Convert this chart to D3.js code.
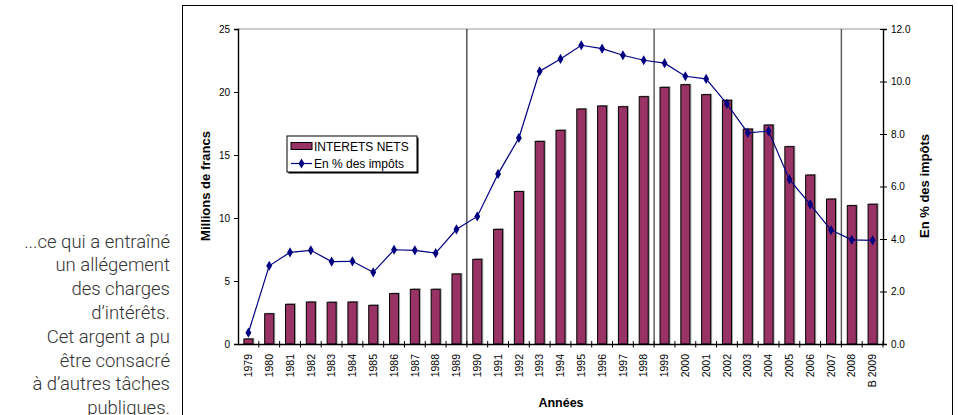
<!DOCTYPE html>
<html>
<head>
<meta charset="utf-8">
<script src="https://cdn.jsdelivr.net/npm/d3@7"></script>
<style>
  body { margin: 0; background: #fff; }
  svg text { font-family: "Liberation Sans", Arial, sans-serif; }
</style>
</head>
<body>
<div id="body"></div>
<script>
// données
var years = ["1979","1980","1981","1982","1983","1984","1985","1986","1987","1988","1989",
             "1990","1991","1992","1993","1994","1995","1996","1997","1998","1999","2000",
             "2001","2002","2003","2004","2005","2006","2007","2008","B 2009"];
var interets = [0.4, 2.4, 3.15, 3.33, 3.31, 3.33, 3.07, 4.0, 4.34, 4.34, 5.56,
                6.72, 9.1, 12.1, 16.08, 16.96, 18.65, 18.89, 18.83, 19.63, 20.37, 20.58,
                19.79, 19.34, 17.06, 17.38, 15.66, 13.41, 11.5, 10.98, 11.09];
var pctImpots = [0.43, 2.98, 3.49, 3.57, 3.14, 3.15, 2.73, 3.59, 3.57, 3.46, 4.37,
                 4.86, 6.48, 7.85, 10.39, 10.86, 11.38, 11.25, 11.0, 10.81, 10.7, 10.2,
                 10.1, 9.15, 8.04, 8.11, 6.27, 5.32, 4.34, 3.97, 3.95];
var leftTicks = [0, 5, 10, 15, 20, 25];
var rightTicks = [0, 2, 4, 6, 8, 10, 12];
var dividers = ["1990", "1999", "2008"];   // lignes verticales avant ces années
var sideText = ["...ce qui a entraîné", "un allégement", "des charges", "d’intérêts.",
                "Cet argent a pu", "être consacré", "à d’autres tâches", "publiques."];

var width = 958, height = 415;
var plot = {left: 238, right: 883, top: 29, bottom: 344};

var svg = d3.select("#body").append("svg")
    .attr("width", width).attr("height", height);

// texte à gauche
svg.append("g").selectAll("text")
    .data(sideText).enter().append("text")
    .attr("x", 170)
    .attr("y", function(d, i){ return 247.5 + i * 23.8; })
    .attr("text-anchor", "end")
    .style("font-family", "Roboto, 'Open Sans', sans-serif")
    .style("font-weight", 300)
    .attr("font-size", "18.5px")
    .attr("fill", "#333")
    .text(function(d){ return d; });

// cadre du graphique
svg.append("rect")
    .attr("x", 182.5).attr("y", 5.5)
    .attr("width", 770).attr("height", 430)
    .attr("fill", "none").attr("stroke", "#000").attr("stroke-width", 1);

var x = d3.scaleBand().domain(years).range([plot.left, plot.right]).paddingInner(0).paddingOuter(0);
var yL = d3.scaleLinear().domain([0, 25]).range([plot.bottom, plot.top]);
var yR = d3.scaleLinear().domain([0, 12]).range([plot.bottom, plot.top]);

// bord supérieur de la zone
svg.append("line")
    .attr("x1", plot.left).attr("x2", plot.right)
    .attr("y1", plot.top).attr("y2", plot.top)
    .attr("stroke", "#999").attr("stroke-width", 1.2);

// lignes verticales
svg.append("g").selectAll("line")
    .data(dividers).enter().append("line")
    .attr("x1", function(d){ return x(d); })
    .attr("x2", function(d){ return x(d); })
    .attr("y1", plot.top).attr("y2", plot.bottom)
    .attr("stroke", function(d, i){ return i == 0 ? "#000" : "#555"; })
    .attr("stroke-width", function(d, i){ return i == 0 ? 1 : 1.4; });

// barres
var bw = x.bandwidth() / 2.3;
var bars = svg.append("g");
bars.selectAll("rect.shadow")
    .data(interets).enter().append("rect")
    .attr("class", "shadow")
    .attr("x", function(d, i){ return x(years[i]) + (x.bandwidth() - bw) / 2 + 1.5; })
    .attr("y", function(d){ return yL(d) - 1; })
    .attr("width", bw)
    .attr("height", function(d){ return yL(0) - yL(d) + 1; })
    .attr("fill", "#aaa");
bars.selectAll("rect.bar")
    .data(interets).enter().append("rect")
    .attr("class", "bar")
    .attr("x", function(d, i){ return x(years[i]) + (x.bandwidth() - bw) / 2; })
    .attr("y", function(d){ return yL(d); })
    .attr("width", bw)
    .attr("height", function(d){ return yL(0) - yL(d); })
    .attr("fill", "#993366")
    .attr("stroke", "#000").attr("stroke-width", 1);

// courbe
var line = d3.line()
    .x(function(d, i){ return x(years[i]) + x.bandwidth() / 2; })
    .y(function(d){ return yR(d); });
svg.append("path")
    .attr("d", line(pctImpots))
    .attr("fill", "none").attr("stroke", "#000080").attr("stroke-width", 1.2);
svg.append("g").selectAll("path")
    .data(pctImpots).enter().append("path")
    .attr("d", d3.symbol().type(d3.symbolDiamond).size(30))
    .attr("transform", function(d, i){
        return "translate(" + (x(years[i]) + x.bandwidth() / 2) + "," + yR(d) + ")";
    })
    .attr("fill", "#000080");

// axe gauche
var gl = svg.append("g").attr("transform", "translate(" + plot.left + ",0)")
    .call(d3.axisLeft(yL).tickValues(leftTicks).tickSize(4).tickPadding(4));
gl.select(".domain").attr("stroke-width", 1.4);
gl.selectAll("text").attr("font-size", "10px").attr("fill", "#000");

// axe droit
var gr = svg.append("g").attr("transform", "translate(" + plot.right + ",0)")
    .call(d3.axisRight(yR).tickValues(rightTicks).tickFormat(d3.format(".1f")).tickSize(4).tickPadding(4));
gr.select(".domain").attr("stroke-width", 1.4);
gr.selectAll(".tick line").attr("x1", -3);
gr.selectAll("text").attr("font-size", "10px").attr("fill", "#000");

// axe x
var gx = svg.append("g").attr("transform", "translate(0," + plot.bottom + ")")
    .call(d3.axisBottom(x).tickSize(0).tickPadding(0));
gx.select(".domain").attr("stroke-width", 1.4);
gx.selectAll("text")
    .attr("transform", "rotate(-90)")
    .attr("text-anchor", "end")
    .attr("x", -10).attr("y", 0).attr("dy", "0.35em")
    .attr("font-size", "10.5px").attr("fill", "#000");
svg.append("g").selectAll("line")
    .data(years).enter().append("line")
    .attr("x1", function(d){ return x(d) + x.bandwidth(); })
    .attr("x2", function(d){ return x(d) + x.bandwidth(); })
    .attr("y1", plot.bottom - 3).attr("y2", plot.bottom + 3.5)
    .attr("stroke", "#000").attr("stroke-width", 1);

// titres des axes
svg.append("text")
    .attr("transform", "translate(210,186) rotate(-90)")
    .attr("text-anchor", "middle")
    .attr("font-size", "13px").attr("font-weight", "bold")
    .text("Millions de francs");
svg.append("text")
    .attr("transform", "translate(929,186) rotate(-90)")
    .attr("text-anchor", "middle")
    .attr("font-size", "13px").attr("font-weight", "bold")
    .text("En % des impôts");
svg.append("text")
    .attr("x", 561).attr("y", 407)
    .attr("text-anchor", "middle")
    .attr("font-size", "12.5px").attr("font-weight", "bold")
    .text("Années");

// légende
var lg = svg.append("g").attr("transform", "translate(287,136)");
lg.append("rect").attr("x", 1.5).attr("y", 1.5).attr("width", 130).attr("height", 36)
    .attr("fill", "#000");
lg.append("rect").attr("x", 0).attr("y", 0).attr("width", 130).attr("height", 36)
    .attr("fill", "#fff").attr("stroke", "#000").attr("stroke-width", 1);
lg.append("rect").attr("x", 4).attr("y", 6.5).attr("width", 21).attr("height", 7)
    .attr("fill", "#993366").attr("stroke", "#000").attr("stroke-width", 1);
lg.append("text").attr("x", 27).attr("y", 14.5).attr("font-size", "12px").text("INTERETS NETS");
lg.append("line").attr("x1", 4).attr("x2", 25).attr("y1", 27.5).attr("y2", 27.5)
    .attr("stroke", "#000080").attr("stroke-width", 1.2);
lg.append("path").attr("d", d3.symbol().type(d3.symbolDiamond).size(30))
    .attr("transform", "translate(14.5,27.5)").attr("fill", "#000080");
lg.append("text").attr("x", 27).attr("y", 32).attr("font-size", "12px").text("En % des impôts");
</script>
</body>
</html>
